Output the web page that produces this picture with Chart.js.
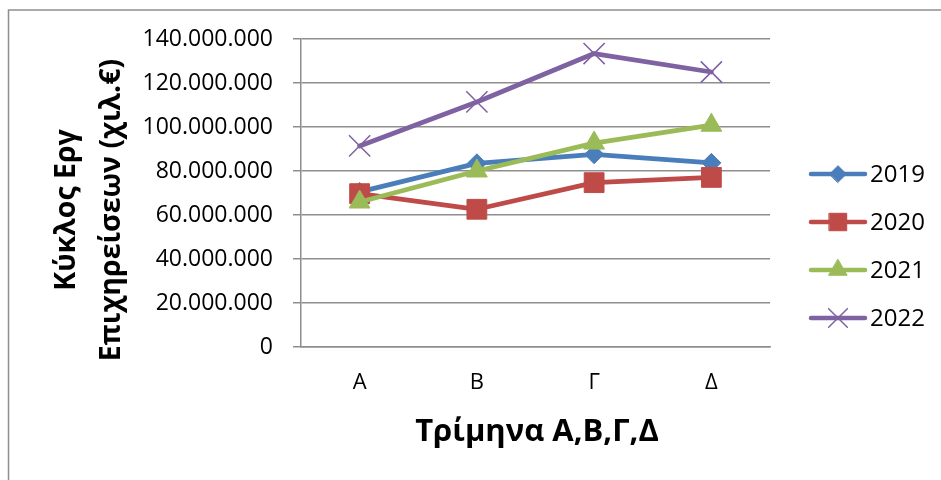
<!DOCTYPE html>
<html>
<head>
<meta charset="utf-8">
<script src="https://cdn.jsdelivr.net/npm/chart.js@4.4.1/dist/chart.umd.min.js"></script>
<style>
  html, body { margin: 0; padding: 0; background: #ffffff; }
  #wrap { width: 941px; height: 480px; }
</style>
</head>
<body>
<div id="wrap"><canvas id="c" width="941" height="480"></canvas></div>
<script>
// Quarterly turnover per year (thousand €)
const quarters = ['Α', 'Β', 'Γ', 'Δ'];
const years = ['2019', '2020', '2021', '2022'];
const turnover2019 = [70500000, 83500000, 87600000, 83700000];
const turnover2020 = [69700000, 62600000, 74700000, 77100000];
const turnover2021 = [65900000, 80000000, 92700000, 100800000];
const turnover2022 = [91400000, 111400000, 133400000, 125000000];
const yAxisMax = 140000000;
const yAxisStep = 20000000;

const yTitleLines = ['Κύκλος Εργ', 'Επιχηρείσεων (χιλ.€)'];
const xTitle = 'Τρίμηνα Α,Β,Γ,Δ';

const FONT = "'Open Sans', 'Liberation Sans', sans-serif";
const GRID = '#8e8e8e';

const seriesStyle = [
  { color: '#4a7ebb', pointStyle: 'rectRot',  radius: 9.5, border: 1 },
  { color: '#be4b48', pointStyle: 'rect',     radius: 14,  border: 1 },
  { color: '#9bbb59', pointStyle: 'triangle', radius: 12,  border: 1 },
  { color: '#7f62a1', pointStyle: 'crossRot', radius: 15,  border: 1.5 }
];
const seriesValues = [turnover2019, turnover2020, turnover2021, turnover2022];

function withDots(v) {
  return String(Math.round(v)).replace(/\B(?=(\d{3})+(?!\d))/g, '.');
}

const datasets = years.map((y, i) => ({
  label: y,
  data: seriesValues[i],
  borderColor: seriesStyle[i].color,
  backgroundColor: seriesStyle[i].color,
  pointBackgroundColor: seriesStyle[i].color,
  pointBorderColor: seriesStyle[i].color,
  pointStyle: seriesStyle[i].pointStyle,
  pointRadius: seriesStyle[i].radius,
  pointHoverRadius: seriesStyle[i].radius,
  pointBorderWidth: seriesStyle[i].border,
  borderWidth: 4.8,
  borderJoinStyle: 'round',
  borderCapStyle: 'round',
  tension: 0,
  fill: false,
  order: years.length - i
}));

// Outer frame of the chart object
const framePlugin = {
  id: 'frame',
  beforeDraw(chart) {
    const ctx = chart.ctx;
    ctx.save();
    ctx.fillStyle = '#ffffff';
    ctx.fillRect(0, 0, chart.width, chart.height);
    ctx.strokeStyle = GRID;
    ctx.lineWidth = 1.5;
    ctx.strokeRect(8.5, 10, 1000, 1000);
    ctx.restore();
  }
};

// Axis titles
const titlesPlugin = {
  id: 'axisTitles',
  afterDraw(chart) {
    const ctx = chart.ctx;
    ctx.save();
    ctx.fillStyle = '#000000';
    ctx.textAlign = 'center';
    ctx.textBaseline = 'alphabetic';
    ctx.font = "bold 28.5px " + FONT;
    const cy = 210;
    const baseX = [75, 120];
    yTitleLines.forEach((line, i) => {
      ctx.save();
      ctx.translate(baseX[i], cy);
      ctx.rotate(-Math.PI / 2);
      ctx.fillText(line, 0, 0);
      ctx.restore();
    });
    ctx.font = "bold 31px " + FONT;
    ctx.fillText(xTitle, 537, 441);
    ctx.restore();
  }
};

// Legend with line + marker samples
const legendPlugin = {
  id: 'sideLegend',
  afterDraw(chart) {
    const ctx = chart.ctx;
    const x0 = 811, x1 = 865, xm = 838, xt = 870;
    const yStart = 174, gap = 48;
    ctx.save();
    chart.data.datasets.forEach((ds, i) => {
      const y = yStart + i * gap;
      ctx.strokeStyle = ds.borderColor;
      ctx.lineWidth = 4.5;
      ctx.lineCap = 'round';
      ctx.beginPath();
      ctx.moveTo(x0, y);
      ctx.lineTo(x1, y);
      ctx.stroke();
      ctx.fillStyle = ds.pointBackgroundColor;
      ctx.strokeStyle = ds.pointBorderColor;
      ctx.lineWidth = ds.pointBorderWidth;
      Chart.helpers.drawPoint(ctx, {
        pointStyle: ds.pointStyle,
        rotation: 0,
        radius: ds.pointRadius * 0.88,
        borderWidth: ds.pointBorderWidth
      }, xm, y);
      ctx.fillStyle = '#000000';
      ctx.font = "24px " + FONT;
      ctx.textAlign = 'left';
      ctx.textBaseline = 'middle';
      ctx.fillText(ds.label, xt, y + 1);
    });
    ctx.restore();
  }
};

new Chart(document.getElementById('c'), {
  type: 'line',
  data: { labels: quarters, datasets },
  options: {
    responsive: false,
    animation: false,
    devicePixelRatio: 1,
    layout: { padding: { top: 39, right: 171, bottom: 0, left: 0 } },
    plugins: {
      legend: { display: false },
      tooltip: { enabled: false },
      title: { display: false }
    },
    scales: {
      x: {
        type: 'category',
        offset: true,
        grid: { display: false, drawTicks: false },
        border: { display: true, color: GRID, width: 1.5 },
        ticks: {
          color: '#000000',
          font: { family: FONT, size: 22 },
          padding: 23,
          maxRotation: 0
        },
        afterFit(scale) { scale.height = 480 - 347; }
      },
      y: {
        min: 0,
        max: yAxisMax,
        grid: { color: GRID, lineWidth: 1.5, tickLength: 8, drawTicks: true },
        border: { display: true, color: GRID, width: 1.5 },
        ticks: {
          stepSize: yAxisStep,
          color: '#000000',
          font: { family: FONT, size: 23 },
          padding: 20,
          callback: (v) => withDots(v)
        },
        afterFit(scale) { scale.width = 301; }
      }
    }
  },
  plugins: [framePlugin, titlesPlugin, legendPlugin]
});
</script>
</body>
</html>
